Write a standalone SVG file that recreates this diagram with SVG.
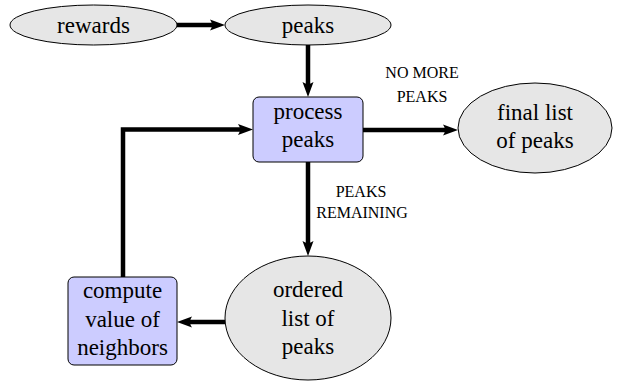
<svg xmlns="http://www.w3.org/2000/svg" width="617" height="385" viewBox="0 0 617 385">
<style>
.ell{fill:#e6e6e6;stroke:#000;stroke-width:1}
.box{fill:#ccccff;stroke:#000;stroke-width:1}
.t{font-family:'Liberation Serif','Times New Roman','DejaVu Serif',serif;font-size:23px;fill:#000;text-anchor:middle}
.lbl{font-family:'Liberation Serif','Times New Roman','DejaVu Serif',serif;font-size:16px;fill:#000;text-anchor:middle}
.c{fill:none;stroke:#000;stroke-width:4.5;marker-end:url(#ah)}
</style>
<defs>
<marker id="ah" markerUnits="userSpaceOnUse" viewBox="-6 -7 17 14" refX="0" refY="0" markerWidth="17" markerHeight="14" orient="auto">
<path d="M10,0 L-5,-5.5 Q-1,0 -5,5.5 Z" fill="#000"/>
</marker>
</defs>
<g id="connectors">
<line class="c" x1="177" y1="25" x2="215" y2="25"/>
<line class="c" x1="308" y1="45" x2="308" y2="87"/>
<line class="c" x1="363" y1="130" x2="448" y2="130"/>
<line class="c" x1="308" y1="162" x2="308" y2="246"/>
<line class="c" x1="225" y1="322" x2="187" y2="322"/>
<path class="c" d="M123,277 V129.5 H243"/>
<text class="lbl" x="422" y="78">NO MORE</text>
<text class="lbl" x="422" y="102">PEAKS</text>
<text class="lbl" x="361" y="197">PEAKS</text>
<text class="lbl" x="362" y="218">REMAINING</text>
</g>
<g id="rewards">
<ellipse class="ell" cx="93.5" cy="25" rx="83.5" ry="20"/>
<text class="t" x="93.5" y="33">rewards</text>
</g>
<g id="peaks">
<ellipse class="ell" cx="308" cy="25" rx="83" ry="20"/>
<text class="t" x="308" y="33">peaks</text>
</g>
<g id="process">
<rect class="box" x="253" y="97" width="110" height="65" rx="6"/>
<text class="t" x="308" y="119">process</text>
<text class="t" x="308" y="147">peaks</text>
</g>
<g id="final">
<ellipse class="ell" cx="535" cy="128" rx="77" ry="45"/>
<text class="t" x="535" y="120">final list</text>
<text class="t" x="535" y="148">of peaks</text>
</g>
<g id="ordered">
<ellipse class="ell" cx="308" cy="318" rx="83" ry="62"/>
<text class="t" x="308" y="297">ordered</text>
<text class="t" x="308" y="326">list of</text>
<text class="t" x="308" y="354">peaks</text>
</g>
<g id="compute">
<rect class="box" x="68" y="277" width="109" height="88" rx="6"/>
<text class="t" x="122.5" y="298">compute</text>
<text class="t" x="122.5" y="327">value of</text>
<text class="t" x="122.5" y="355">neighbors</text>
</g>
</svg>
